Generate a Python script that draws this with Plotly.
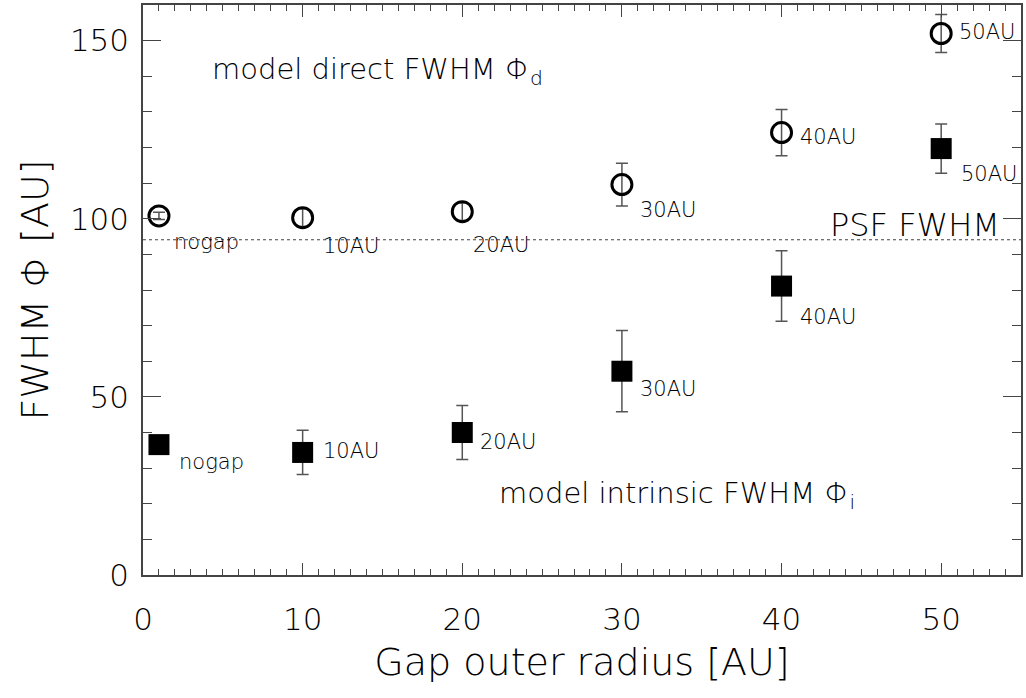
import plotly.graph_objects as go

# data
gap_radius = [1, 10, 20, 30, 40, 50]
labels = ["nogap", "10AU", "20AU", "30AU", "40AU", "50AU"]
direct_fwhm = [100.8, 100.3, 102.0, 109.6, 124.2, 152.0]
direct_err = [1.0, 2.5, 2.5, 6.0, 6.5, 5.3]
intrinsic_fwhm = [36.6, 34.4, 40.0, 57.2, 81.1, 119.7]
intrinsic_err = [0.0, 6.2, 7.6, 11.4, 9.9, 6.9]
psf_fwhm = 94.1

FONT = "DejaVu Sans"
TXT = "#000000"
AX = "#444444"
W = 200

fig = go.Figure()

fig.add_trace(go.Scatter(
    x=gap_radius, y=direct_fwhm, mode="markers",
    error_y=dict(type="data", array=direct_err, color="#555555", thickness=1.5, width=6),
    marker=dict(symbol="circle-open", size=20, color="black", line=dict(width=3, color="black")),
    showlegend=False, hoverinfo="skip",
))
fig.add_trace(go.Scatter(
    x=gap_radius, y=intrinsic_fwhm, mode="markers",
    error_y=dict(type="data", array=intrinsic_err, color="#555555", thickness=1.5, width=6),
    marker=dict(symbol="square", size=21, color="black"),
    showlegend=False, hoverinfo="skip",
))
# invisible trace on mirrored axes (to draw top/right minor ticks)
fig.add_trace(go.Scatter(
    x=gap_radius, y=direct_fwhm, xaxis="x2", yaxis="y2", mode="markers",
    marker=dict(opacity=0), showlegend=False, hoverinfo="skip",
))

# PSF line
fig.add_shape(type="line", xref="paper", x0=0, x1=1, yref="y", y0=psf_fwhm, y1=psf_fwhm,
              line=dict(color="#444444", width=1.2, dash="dot"))

# point labels (offsets in px are styling)
direct_offsets = [(13, -26), (18, -28), (9, -33), (16, -25), (16, -4), (16, 2)]
intr_offsets = [(18, -17), (18, 1), (16, -9), (16, -18), (16, -31), (18, -25)]
for xv, yv, lab, (dx, dy) in zip(gap_radius, direct_fwhm, labels, direct_offsets):
    fig.add_annotation(x=xv, y=yv, text=lab, showarrow=False, xanchor="left", yanchor="middle",
                       xshift=dx, yshift=dy, font=dict(family=FONT, size=21, color=TXT, weight=W))
for xv, yv, lab, (dx, dy) in zip(gap_radius, intrinsic_fwhm, labels, intr_offsets):
    fig.add_annotation(x=xv, y=yv, text=lab, showarrow=False, xanchor="left", yanchor="middle",
                       xshift=dx, yshift=dy, font=dict(family=FONT, size=21, color=TXT, weight=W))

fig.add_annotation(x=4.2, y=141.5, xref="x", yref="y", text="model direct FWHM Φ<sub>d</sub>",
                   showarrow=False, xanchor="left", yanchor="middle",
                   font=dict(family=FONT, size=29, color=TXT, weight=W))
fig.add_annotation(x=22.2, y=22.5, xref="x", yref="y", text="model intrinsic FWHM Φ<sub>i</sub>",
                   showarrow=False, xanchor="left", yanchor="middle",
                   font=dict(family=FONT, size=29, color=TXT, weight=W))
fig.add_annotation(x=53.8, y=98.3, xref="x", yref="y", text="PSF FWHM",
                   showarrow=False, xanchor="right", yanchor="middle",
                   font=dict(family=FONT, size=32, color=TXT, weight=W))

line_common = dict(showgrid=False, zeroline=False, showline=True, linecolor=AX, linewidth=1.5,
                   ticks="inside", tickcolor=AX, tickwidth=1.2)
tickfont = dict(family=FONT, size=31, color=TXT, weight=W)

fig.update_layout(
    xaxis=dict(**line_common, range=[0, 55], dtick=10, ticklen=12,
               minor=dict(dtick=1, ticklen=6, ticks="inside", tickcolor=AX, tickwidth=1.2),
               tickfont=tickfont, ticklabelstandoff=16,
               title=dict(text="Gap outer radius [AU]", standoff=12,
                          font=dict(family=FONT, size=38, color=TXT, weight=W))),
    yaxis=dict(**line_common, range=[0, 160], dtick=50, ticklen=18,
               minor=dict(dtick=10, ticklen=9, ticks="inside", tickcolor=AX, tickwidth=1.2),
               tickfont=tickfont, ticklabelstandoff=6,
               title=dict(text="FWHM Φ [AU]", standoff=10,
                          font=dict(family=FONT, size=38, color=TXT, weight=W))),
    xaxis2=dict(**line_common, overlaying="x", side="top", anchor="y", range=[0, 55], dtick=10,
                ticklen=12, showticklabels=False,
                minor=dict(dtick=1, ticklen=6, ticks="inside", tickcolor=AX, tickwidth=1.2)),
    yaxis2=dict(**line_common, overlaying="y", side="right", anchor="x", range=[0, 160], dtick=50,
                ticklen=18, showticklabels=False,
                minor=dict(dtick=10, ticklen=9, ticks="inside", tickcolor=AX, tickwidth=1.2)),
    width=1026, height=698,
    margin=dict(l=143, r=5, t=5, b=123, autoexpand=False),
    paper_bgcolor="white", plot_bgcolor="white",
)

fig.write_html("out.html", config={"displayModeBar": False},
               post_script="document.body.style.margin='0';document.body.style.overflow='hidden';")
